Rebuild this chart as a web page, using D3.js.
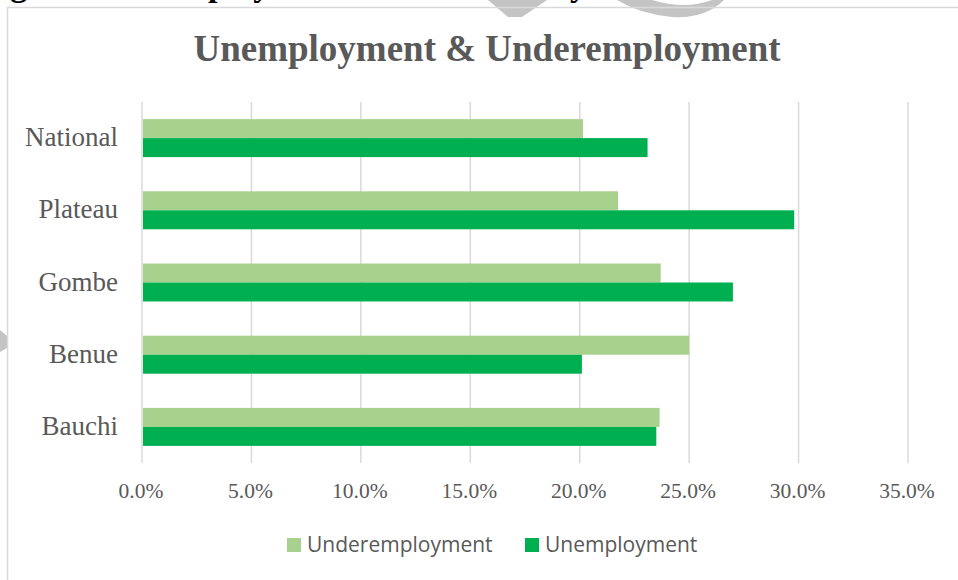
<!DOCTYPE html>
<html>
<head>
  <meta charset="UTF-8">
  <style>
body {
    margin: 0;
    background: white;
}
svg {
    display: block;
}
.cat-label, .tick-label {
    font-family: 'Liberation Serif', 'Times New Roman', serif;
    fill: #595959;
}
.legend-label {
    font-family: 'Open Sans', 'Noto Sans', sans-serif;
    fill: #595959;
}
  </style>
</head>
<body>
<svg id="chart"></svg>

<script src="https://d3js.org/d3.v7.min.js"></script>
<script>

let width = 958, height = 580;

// data (top to bottom)
let categories = ["National", "Plateau", "Gombe", "Benue", "Bauchi"];
let seriesNames = ["Underemployment", "Unemployment"];
let underemployment = [20.15, 21.75, 23.7, 25.0, 23.65];
let unemployment = [23.1, 29.8, 27.0, 20.1, 23.5];
let ticks = [0, 5, 10, 15, 20, 25, 30, 35];
let colors = ["#a9d18e", "#00b050"];

let rows = categories.map((c, i) => ({
    name: c,
    values: [
        {key: seriesNames[0], value: underemployment[i]},
        {key: seriesNames[1], value: unemployment[i]}
    ]
}));

let svg = d3.select("#chart")
    .attr("width", width)
    .attr("height", height);

// caption line of the page, cut off at the top (only descenders show)
svg.append("text")
    .attr("x", -20)
    .attr("y", -4.5)
    .style("font-family", "'Liberation Serif', serif")
    .style("font-weight", "bold")
    .style("font-size", "34px")
    .style("fill", "#000")
    .text("Figure 2: Unemployment & Underemployment");

// watermark bits
let wm = svg.append("g").attr("fill", "#c4c4c4");
wm.append("path")
    .attr("d", "M488,0 L547,0 L522,17 L508,17 Z");
wm.append("path")
    .attr("d", "M617,0 L652,0 Q685,10 712,0 L724,0 Q705,19 672,17 Q640,14 617,0 Z");
wm.append("path")
    .attr("d", "M0,330 L7,336 L7,348 L0,352 Z");

// chart frame
svg.append("rect")
    .attr("x", 7.5)
    .attr("y", 7.5)
    .attr("width", 980)
    .attr("height", 600)
    .attr("fill", "none")
    .attr("stroke", "#d9d9d9")
    .attr("stroke-width", 1.5);

// title
svg.append("text")
    .attr("x", 487)
    .attr("y", 61)
    .attr("text-anchor", "middle")
    .style("font-family", "'Liberation Serif', serif")
    .style("font-weight", "bold")
    .style("font-size", "37px")
    .style("fill", "#595959")
    .text("Unemployment & Underemployment");

// scales
let x = d3.scaleLinear()
    .domain([0, 35])
    .range([142, 908]);

let y = d3.scaleBand()
    .domain(categories)
    .range([102, 463])
    .paddingInner(0.474)
    .paddingOuter(0.237);

let ySub = d3.scaleBand()
    .domain(seriesNames)
    .range([0, y.bandwidth()]);

let color = d3.scaleOrdinal()
    .domain(seriesNames)
    .range(colors);

// gridlines
svg.append("g")
    .selectAll("line")
    .data(ticks)
    .enter()
    .append("line")
    .attr("x1", d => x(d))
    .attr("x2", d => x(d))
    .attr("y1", 102)
    .attr("y2", 463)
    .attr("stroke", "#d9d9d9")
    .attr("stroke-width", 1.5);

// bars
let groups = svg.append("g")
    .selectAll("g")
    .data(rows)
    .enter()
    .append("g")
    .attr("transform", d => "translate(0," + y(d.name) + ")");

groups.selectAll("rect")
    .data(d => d.values)
    .enter()
    .append("rect")
    .attr("x", x(0) + 1)
    .attr("y", d => ySub(d.key))
    .attr("width", d => x(d.value) - x(0) - 1)
    .attr("height", ySub.bandwidth())
    .attr("fill", d => color(d.key));

// category labels
svg.append("g")
    .selectAll("text")
    .data(categories)
    .enter()
    .append("text")
    .attr("class", "cat-label")
    .attr("x", 118)
    .attr("y", d => y(d) + y.bandwidth() / 2 + 8)
    .attr("text-anchor", "end")
    .style("font-size", "27px")
    .text(d => d);

// tick labels
svg.append("g")
    .selectAll("text")
    .data(ticks)
    .enter()
    .append("text")
    .attr("class", "tick-label")
    .attr("x", d => x(d) - 1)
    .attr("y", 498)
    .attr("text-anchor", "middle")
    .style("font-size", "21.5px")
    .text(d => d3.format(".1f")(d) + "%");

// legend
let legendX = [287, 525];
let legend = svg.append("g")
    .selectAll("g")
    .data(seriesNames)
    .enter()
    .append("g")
    .attr("transform", (d, i) => "translate(" + legendX[i] + ",538)");

legend.append("rect")
    .attr("width", 14)
    .attr("height", 14)
    .attr("fill", d => color(d));

legend.append("text")
    .attr("class", "legend-label")
    .attr("x", 20)
    .attr("y", 14)
    .style("font-size", "21px")
    .text(d => d);

</script>

</body>
</html>
